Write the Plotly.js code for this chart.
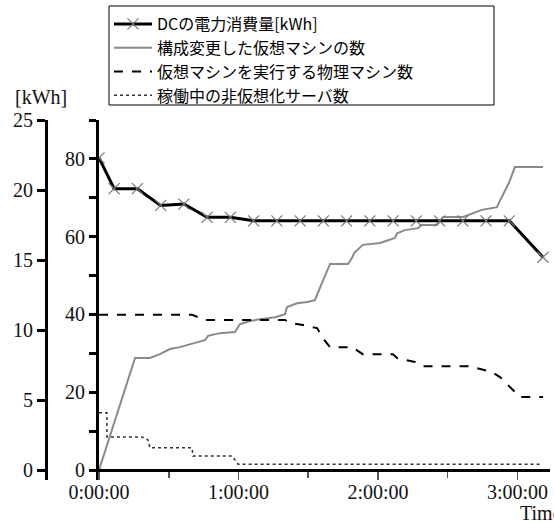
<!DOCTYPE html>
<html>
<head>
<meta charset="utf-8">
<script src="https://cdn.plot.ly/plotly-3.0.1.min.js"></script>
<style>html,body{margin:0;padding:0;background:#fff;}#chart{width:554px;height:522px;}</style>
</head>
<body>
<div id="chart"></div>
<script>
// Series names
const names = [
  "DCの電力消費量[kWh]",
  "構成変更した仮想マシンの数",
  "仮想マシンを実行する物理マシン数",
  "稼働中の非仮想化サーバ数"
];

// Time in minutes from start
const powerTime = [0, 6.5, 16.5, 26.5, 36.5, 46.5, 56.5, 66.5, 76.5, 86.5, 96.5, 106.5, 116.5, 126.5, 136.5, 146.5, 156.5, 166.5, 176.5, 191];
const powerKWh  = [22.3, 20.1, 20.1, 18.9, 19.0, 18.05, 18.05, 17.8, 17.8, 17.8, 17.8, 17.8, 17.8, 17.8, 17.8, 17.8, 17.8, 17.8, 17.8, 15.2];

const vmTime  = [0, 9.9, 15.5, 21.9, 26.2, 30.5, 34.8, 41.3, 45.6, 46.9, 52.0, 58.5, 60.6, 64.9, 69.2, 75.7, 80.0, 80.9, 85.2, 89.5, 92.9, 95.9, 99.4, 107.1, 108.8, 109.7, 113.5, 120.9, 127.3, 128.2, 131.6, 137.2, 138.5, 145.4, 148.0, 156.6, 159.6, 164.7, 171.2, 172.0, 176.3, 178.9, 191.0];
const vmCount = [0, 18.5, 28.8, 28.8, 29.8, 31.1, 31.6, 32.7, 33.4, 34.5, 35.2, 35.5, 37.5, 38.3, 38.8, 39.3, 40.1, 41.9, 42.9, 43.2, 43.7, 48.1, 53.0, 53.0, 54.5, 55.8, 57.9, 58.4, 59.7, 60.9, 61.7, 62.2, 63.0, 63.0, 65.1, 65.1, 65.8, 66.9, 67.6, 68.7, 73.8, 77.9, 77.9];

const pmTime  = [0, 40.0, 45.6, 80.0, 82.2, 87.7, 93.8, 96.3, 99.4, 108.8, 113.5, 126.4, 128.2, 135.9, 139.4, 158.7, 162.6, 169.0, 172.5, 176.8, 181.1, 191.0];
const pmCount = [39.9, 39.9, 38.6, 38.6, 37.8, 37.3, 36.5, 33.9, 31.6, 31.6, 29.8, 29.8, 28.8, 27.8, 26.7, 26.7, 26.2, 25.2, 23.9, 21.3, 18.8, 18.8];

const svTime  = [0, 3.4, 3.4, 18.5, 21.1, 21.9, 40.0, 40.4, 57.2, 59.8, 189.7];
const svCount = [14.7, 14.7, 8.5, 8.5, 7.7, 5.7, 5.7, 3.6, 3.6, 1.5, 1.5];

const xTickVals = [0, 60, 120, 180];
const xTickText = ["0:00:00", "1:00:00", "2:00:00", "3:00:00"];
const kwhTicks = [0, 5, 10, 15, 20, 25];
const countTicks = [0, 20, 40, 60, 80];

const serif = "Liberation Serif, Times New Roman, serif";
const tickFont = {family: serif, size: 20, color: "#111"};

const traces = [
  {x: powerTime, y: powerKWh, name: names[0], yaxis: "y2", mode: "lines+markers",
   line: {color: "#000", width: 3},
   marker: {symbol: "x-thin-open", size: 11, color: "#777", line: {color: "#777", width: 1.2}}},
  {x: vmTime, y: vmCount, name: names[1], yaxis: "y", mode: "lines",
   line: {color: "#8a8a8a", width: 2}},
  {x: pmTime, y: pmCount, name: names[2], yaxis: "y", mode: "lines",
   line: {color: "#000", width: 2, dash: "dash"}},
  {x: svTime, y: svCount, name: names[3], yaxis: "y", mode: "lines",
   line: {color: "#333", width: 1.5, dash: "dot"}}
];

const layout = {
  width: 554, height: 522,
  margin: {l: 46, r: 4, t: 120, b: 42},
  paper_bgcolor: "#fff", plot_bgcolor: "#fff",
  showlegend: true,
  legend: {
    x: 0.125, y: 1.3139, xanchor: "left", yanchor: "top",
    bgcolor: "rgba(0,0,0,0)", borderwidth: 0,
    font: {family: "Noto Sans CJK JP", size: 16, color: "#000"},
    itemwidth: 38, tracegroupgap: 0
  },
  shapes: [
    {type: "rect", xref: "paper", yref: "paper", x0: 0.125, x1: 0.8889, y0: 1.0417, y1: 1.3167,
     line: {color: "#000", width: 1}, fillcolor: "rgba(0,0,0,0)", layer: "above"}
  ],
  xaxis: {
    domain: [0.1052, 1], range: [0, 194],
    anchor: "free", position: 0.0278,
    showgrid: false, zeroline: false,
    showline: true, linecolor: "#000", linewidth: 3,
    tickmode: "array", tickvals: xTickVals, ticktext: xTickText,
    ticks: "outside", ticklen: 8, tickwidth: 1.5, tickcolor: "#555",
    ticklabelstandoff: -5,
    minor: {tickmode: "array", tickvals: [30, 90, 150], ticks: "outside", ticklen: 6, tickwidth: 1.5, tickcolor: "#555"},
    tickfont: tickFont
  },
  yaxis: {
    range: [-2.571, 90.02], anchor: "x",
    showgrid: false, zeroline: false,
    showline: true, linecolor: "#000", linewidth: 3,
    tickmode: "array", tickvals: countTicks,
    ticks: "outside", ticklen: 7, tickwidth: 3, tickcolor: "#000",
    minor: {tickmode: "array", tickvals: [10, 30, 50, 70, 90], ticks: "outside", ticklen: 7, tickwidth: 3, tickcolor: "#000"},
    tickfont: tickFont
  },
  yaxis2: {
    range: [-0.7143, 25.005], overlaying: "y", anchor: "free", position: 0, side: "left",
    showgrid: false, zeroline: false,
    showline: true, linecolor: "#000", linewidth: 3,
    tickmode: "array", tickvals: kwhTicks,
    ticks: "outside", ticklen: 8, tickwidth: 3, tickcolor: "#000",
    tickfont: tickFont
  },
  annotations: [
    {text: "[kWh]", xref: "paper", yref: "paper", x: -0.01, y: 1.063, xanchor: "center", yanchor: "middle",
     showarrow: false, font: {family: serif, size: 20, color: "#111"}},
    {text: "Time", xref: "paper", yref: "paper", x: 0.9365, y: -0.0917, xanchor: "left", yanchor: "middle",
     showarrow: false, font: {family: serif, size: 20, color: "#111"}}
  ]
};

Plotly.newPlot("chart", traces, layout, {displayModeBar: false, staticPlot: true});
</script>
</body>
</html>
